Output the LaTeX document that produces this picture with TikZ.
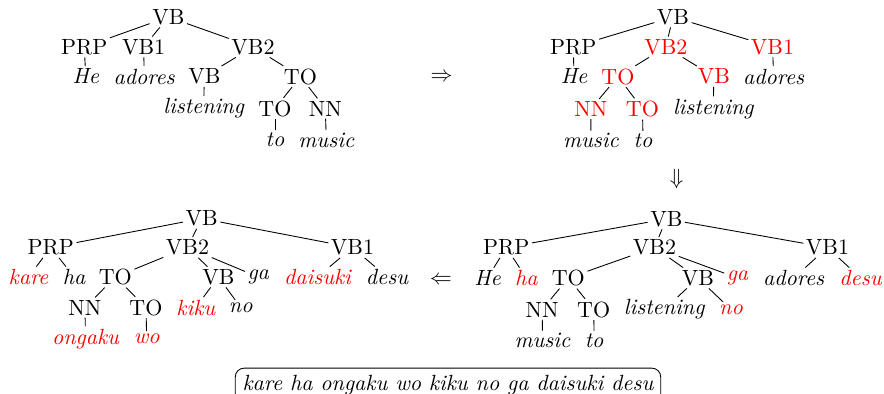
\documentclass[tikz,border=0pt]{standalone}
\usepackage{tikz}
\usepackage{xcolor}
\definecolor{chRed}{HTML}{FF0000}

\begin{document}
\begin{tikzpicture}[x=0.4545pt, y=-0.4545pt,
  every node/.style={inner sep=1pt},
  lex/.style={font=\itshape},
  moved/.style={text=chRed}]
\useasboundingbox (0,0) rectangle (884,394);
\node (a-VB) at (168.3,17) {VB};
\node (a-PRP) at (84.2,47) {PRP};
\node (a-VB1) at (143.7,47) {VB1};
\node (a-VB2) at (253,47) {VB2};
\node[lex] (a-he) at (85.8,76.5) {He};
\node[lex] (a-adores) at (144.2,76.5) {adores};
\node (a-VBv) at (204.3,76.5) {VB};
\node (a-TOp) at (300.5,76.5) {TO};
\node[lex] (a-listening) at (203.7,108.5) {listening};
\node (a-TO) at (275,108.5) {TO};
\node (a-NN) at (325.3,108.5) {NN};
\node[lex] (a-to) at (275,140) {to};
\node[lex] (a-music) at (326.3,140) {music};
\foreach \p/\c in {VB/PRP,VB/VB1,VB/VB2,PRP/he,VB1/adores,VB2/VBv,VB2/TOp,
  VBv/listening,TOp/TO,TOp/NN,TO/to,NN/music}
  \draw (a-\p) -- (a-\c);

\node (arrR) at (441.5,77) {$\Rightarrow$};

\node (b-VB) at (673,17) {VB};
\node (b-PRP) at (573.3,47) {PRP};
\node[moved] (b-VB2) at (665.8,47) {VB2};
\node[moved] (b-VB1) at (772.5,47) {VB1};
\node[lex] (b-he) at (574,76.5) {He};
\node[moved] (b-TOp) at (618,76.5) {TO};
\node[moved] (b-VBv) at (713.8,76.5) {VB};
\node[lex] (b-adores) at (773.7,76.5) {adores};
\node[moved] (b-NN) at (590.8,109) {NN};
\node[moved] (b-TO) at (642.5,109) {TO};
\node[lex] (b-listening) at (713.3,109) {listening};
\node[lex] (b-music) at (591,140.5) {music};
\node[lex] (b-to) at (643,140.5) {to};
\foreach \p/\c in {VB/PRP,VB/VB2,VB/VB1,PRP/he,VB2/TOp,VB2/VBv,VB1/adores,
  TOp/NN,TOp/TO,VBv/listening,NN/music,TO/to}
  \draw (b-\p) -- (b-\c);

\node (arrD) at (676.7,179) {$\Downarrow$};

\node (c-VB) at (666.3,219) {VB};
\node (c-PRP) at (506.3,247.5) {PRP};
\node (c-VB2) at (654.5,247.5) {VB2};
\node (c-VB1) at (827.5,247.5) {VB1};
\node[lex] (c-he) at (487.5,278) {He};
\node[lex, moved] (c-ha) at (526.3,278) {ha};
\node (c-TOp) at (568.3,278) {TO};
\node (c-VBv) at (698,278) {VB};
\node[lex, moved] (c-ga) at (737.5,278) {ga};
\node[lex] (c-adores) at (793.7,278) {adores};
\node[lex, moved] (c-desu) at (860.5,278) {desu};
\node (c-NN) at (542.2,309.5) {NN};
\node (c-TO) at (593.7,309.5) {TO};
\node[lex] (c-listening) at (664.2,309.5) {listening};
\node[lex, moved] (c-no) at (731,309.5) {no};
\node[lex] (c-music) at (542.5,340.5) {music};
\node[lex] (c-to) at (594.2,340.5) {to};
\foreach \p/\c in {VB/PRP,VB/VB2,VB/VB1,PRP/he,PRP/ha,VB2/TOp,VB2/VBv,VB2/ga,
  VB1/adores,VB1/desu,TOp/NN,TOp/TO,VBv/listening,VBv/no,NN/music,TO/to}
  \draw (c-\p) -- (c-\c);

\node (arrL) at (441,280) {$\Leftarrow$};

\node (d-VB) at (201.7,218.5) {VB};
\node (d-PRP) at (50.8,247.5) {PRP};
\node (d-VB2) at (187.5,247.5) {VB2};
\node (d-VB1) at (352.5,247.5) {VB1};
\node[lex, moved] (d-kare) at (28.5,277) {kare};
\node[lex] (d-ha) at (74.2,277) {ha};
\node (d-TOp) at (115.3,277) {TO};
\node (d-VBv) at (218.3,277) {VB};
\node[lex] (d-ga) at (258.3,277) {ga};
\node[lex, moved] (d-daisuki) at (317.5,277) {daisuki};
\node[lex] (d-desu) at (387,277) {desu};
\node (d-NN) at (85,307.5) {NN};
\node (d-TO) at (146,307.5) {TO};
\node[lex, moved] (d-kiku) at (195.8,307.5) {kiku};
\node[lex] (d-no) at (240.8,307.5) {no};
\node[lex, moved] (d-ongaku) at (85.5,338.8) {ongaku};
\node[lex, moved] (d-wo) at (146.7,338.8) {wo};
\foreach \p/\c in {VB/PRP,VB/VB2,VB/VB1,PRP/kare,PRP/ha,VB2/TOp,VB2/VBv,VB2/ga,
  VB1/daisuki,VB1/desu,TOp/NN,TOp/TO,VBv/kiku,VBv/no,NN/ongaku,TO/wo}
  \draw (d-\p) -- (d-\c);

\node[draw, rounded corners, lex, inner sep=.3333em] (gloss) at (448,385.4)
  {kare ha ongaku wo kiku no ga daisuki desu};
\end{tikzpicture}
\end{document}
